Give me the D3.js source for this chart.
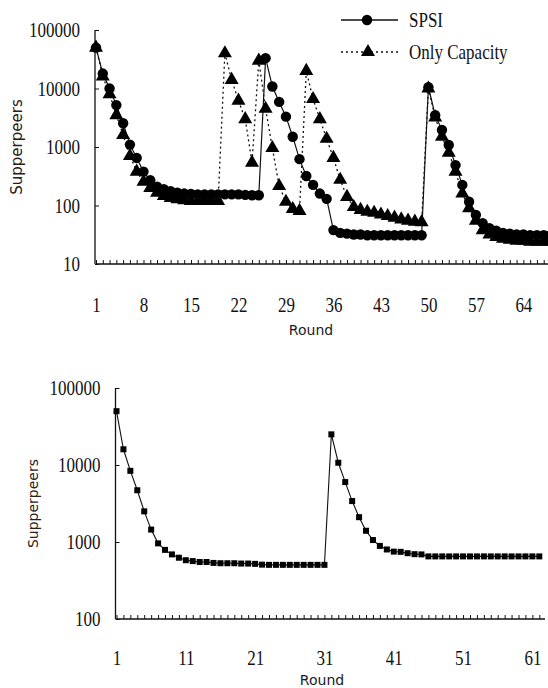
<!DOCTYPE html>
<html>
<head>
<meta charset="utf-8">
<script src="https://cdn.jsdelivr.net/npm/d3@7"></script>
<style>
  body { margin: 0; background: #fff; }
  svg { display: block; }
</style>
</head>
<body>
<svg></svg>
<script>
const svgWidth = 548
const svgHeight = 688

// top chart: rounds 1..68
const topRounds = d3.range(1, 69)
const spsi = [50000, 18000, 10000, 5200, 2550, 1100, 650, 380, 270, 210,
    190, 175, 165, 160, 158, 155, 155, 155, 155, 155,
    155, 155, 152, 150, 150, 33000, 10800, 5900, 3300, 1500,
    620, 320, 225, 160, 130, 38, 34, 33, 32, 32,
    31, 31, 31, 31, 31, 31, 31, 31, 31, 10500,
    3500, 1950, 1080, 490, 225, 116, 69, 50, 41, 37,
    34, 33, 32, 32, 31, 31, 31, 31]
const onlyCapacity = [50000, 16000, 8000, 3500, 1600, 700, 380, 255, 200, 165,
    145, 135, 128, 123, 120, 120, 120, 120, 120, 40000,
    14000, 6200, 3000, 540, 30000, 4500, 960, 215, 116, 87,
    81, 20000, 6600, 3000, 1380, 650, 275, 140, 94, 84,
    78, 75, 70, 66, 62, 58, 55, 53, 52, 10000,
    3200, 1500, 800, 380, 160, 90, 55, 38, 32, 29,
    27, 26, 25, 25, 24, 24, 24, 24]
const topXLabels = [1, 8, 15, 22, 29, 36, 43, 50, 57, 64]
const topYTicks = [10, 100, 1000, 10000, 100000]

// bottom chart: rounds 1..62
const bottomRounds = d3.range(1, 63)
const bottomValues = [50000, 16000, 8400, 4700, 2500, 1450, 960, 790, 690, 625,
    580, 565, 550, 550, 535, 530, 530, 530, 525, 525,
    520, 508, 505, 505, 505, 505, 505, 505, 505, 505,
    505, 25000, 10700, 6000, 3400, 2100, 1400, 1060, 890, 800,
    750, 745, 715, 695, 690, 650, 650, 650, 650, 650,
    650, 650, 650, 650, 650, 650, 650, 650, 650, 650,
    650, 650]
const bottomXLabels = [1, 11, 21, 31, 41, 51, 61]
const bottomYTicks = [100, 1000, 10000, 100000]

const legendNames = ["SPSI", "Only Capacity"]

const svg = d3.select("svg")
    .attr("width", svgWidth)
    .attr("height", svgHeight)

const serif = "'Liberation Serif', 'Times New Roman', serif"
const sans = "'DejaVu Sans', Verdana, sans-serif"
const ink = "#111"
const stretch = 1.2 // the source picture is a bit taller than wide

function drawFrame(xScale, yScale, yTicks, xTicks, xLabels, yTitle, opts) {
    const yTop = yScale.range()[1]
    const yBottom = yScale.range()[0]

    // x axis: small inside ticks at every round
    const xTickAxis = svg.append("g")
        .attr("transform", `translate(0,${yBottom})`)
        .call(d3.axisBottom(xScale).tickValues(xTicks).tickSize(-4).tickFormat(""))
    xTickAxis.select(".domain").remove()
    xTickAxis.selectAll("line").attr("stroke", ink)

    svg.append("line")
        .attr("x1", xScale.range()[0])
        .attr("x2", opts.axisEnd)
        .attr("y1", yBottom)
        .attr("y2", yBottom)
        .attr("stroke", ink)
        .attr("stroke-width", 1.3)

    const xLab = svg.append("g")
        .attr("transform", `translate(0,${yBottom})`)
        .call(d3.axisBottom(xScale).tickValues(xLabels).tickSize(0).tickPadding(opts.xPad / stretch))
    xLab.select(".domain").remove()
    xLab.selectAll("text")
        .attr("font-family", serif)
        .attr("font-size", 17)
        .attr("transform", `scale(1,${stretch})`)
        .attr("fill", ink)

    const yAxis = svg.append("g")
        .attr("transform", `translate(${xScale.range()[0] - 1},0)`)
        .call(d3.axisLeft(yScale).tickValues(yTicks).tickSize(-4).tickPadding(15)
            .tickFormat(d3.format("d")))
    yAxis.select(".domain")
        .attr("d", `M0,${yTop}V${yBottom}`)
        .attr("stroke", ink)
        .attr("stroke-width", 1.3)
    yAxis.selectAll("line").attr("stroke", ink)
    yAxis.selectAll("text")
        .attr("font-family", serif)
        .attr("font-size", 17)
        .attr("transform", `scale(1,${stretch})`)
        .attr("fill", ink)

    svg.append("text")
        .text(yTitle)
        .attr("transform", `translate(${opts.yTitleX},${(yTop + yBottom) / 2}) rotate(-90)`)
        .attr("text-anchor", "middle")
        .attr("font-family", sans)
        .attr("font-size", opts.titleSize)
        .attr("fill", "#2a2018")

    svg.append("text")
        .text("Round")
        .attr("x", opts.roundX)
        .attr("y", opts.roundY)
        .attr("text-anchor", "middle")
        .attr("font-family", sans)
        .attr("font-size", 14)
        .attr("fill", "#1a1a2a")
}

function triangle(size) {
    return d3.symbol().type(d3.symbolTriangle).size(size)()
}

// ---------- top chart ----------
const x1 = d3.scaleLinear().domain([1, 68]).range([96, 550.5])
const y1 = d3.scaleLog().domain([10, 100000]).range([264, 30])

drawFrame(x1, y1, topYTicks, topRounds, topXLabels, "Supperpeers",
    { axisEnd: 548, xPad: 34, yTitleX: 22, titleSize: 15, roundX: 311, roundY: 335 })

const line1 = d3.line()
    .x((d, i) => x1(topRounds[i]))
    .y(d => y1(d))

svg.append("path")
    .datum(onlyCapacity)
    .attr("d", line1)
    .attr("fill", "none")
    .attr("stroke", ink)
    .attr("stroke-width", 1.3)
    .attr("stroke-dasharray", "2,3")

svg.append("path")
    .datum(spsi)
    .attr("d", line1)
    .attr("fill", "none")
    .attr("stroke", ink)
    .attr("stroke-width", 1.2)

svg.append("g")
    .selectAll("path")
    .data(onlyCapacity)
    .join("path")
    .attr("d", triangle(85))
    .attr("transform", (d, i) => `translate(${x1(topRounds[i])},${y1(d)})`)
    .attr("fill", "#000")

svg.append("g")
    .selectAll("circle")
    .data(spsi)
    .join("circle")
    .attr("cx", (d, i) => x1(topRounds[i]))
    .attr("cy", d => y1(d))
    .attr("r", 5.2)
    .attr("fill", "#000")

// legend
const legend = svg.append("g")
legendNames.forEach((name, i) => {
    const ly = 20 + i * 32
    legend.append("line")
        .attr("x1", 341).attr("x2", 398)
        .attr("y1", ly).attr("y2", ly)
        .attr("stroke", ink)
        .attr("stroke-width", 1.3)
        .attr("stroke-dasharray", i === 0 ? null : "2,3")
    if (i === 0) {
        legend.append("circle")
            .attr("cx", 367).attr("cy", ly).attr("r", 5.2).attr("fill", "#000")
    } else {
        legend.append("path")
            .attr("d", triangle(85))
            .attr("transform", `translate(368,${ly})`)
            .attr("fill", "#000")
    }
    legend.append("text")
        .text(name)
        .attr("transform", `translate(409,${ly + 7}) scale(1,${stretch})`)
        .attr("font-family", serif)
        .attr("font-size", 17)
        .attr("fill", ink)
})

// ---------- bottom chart ----------
const x2 = d3.scaleLinear().domain([1, 62]).range([116.5, 539.3])
const y2 = d3.scaleLog().domain([100, 100000]).range([619, 388])

drawFrame(x2, y2, bottomYTicks, bottomRounds, bottomXLabels, "Supperpeers",
    { axisEnd: 545, xPad: 32, yTitleX: 38, titleSize: 14, roundX: 322, roundY: 685 })

const line2 = d3.line()
    .x((d, i) => x2(bottomRounds[i]))
    .y(d => y2(d))

svg.append("path")
    .datum(bottomValues)
    .attr("d", line2)
    .attr("fill", "none")
    .attr("stroke", ink)
    .attr("stroke-width", 1.1)

svg.append("g")
    .selectAll("rect")
    .data(bottomValues)
    .join("rect")
    .attr("x", (d, i) => x2(bottomRounds[i]) - 3)
    .attr("y", d => y2(d) - 3)
    .attr("width", 6)
    .attr("height", 6)
    .attr("fill", "#000")
</script>
</body>
</html>
